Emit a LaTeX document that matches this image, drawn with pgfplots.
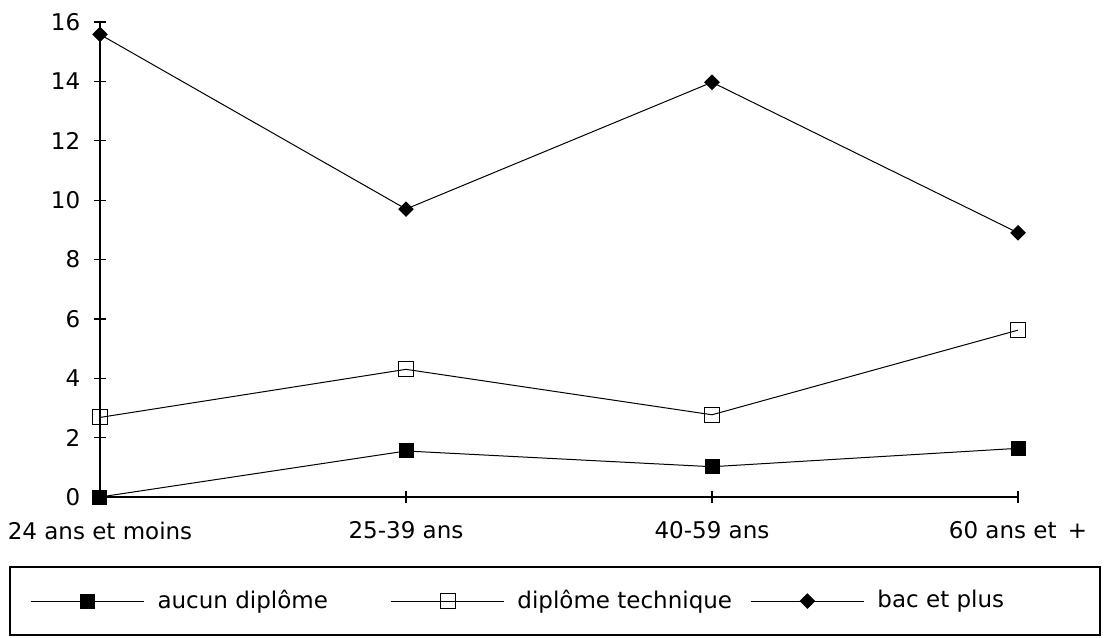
\documentclass[border=0pt]{standalone}
\usepackage{pgfplots}
\pgfplotsset{compat=1.18}
\usepackage{fontspec}
\setmainfont{DejaVu Sans}

\begin{document}
\begin{tikzpicture}
\useasboundingbox (-40pt,-56pt) rectangle (402pt,198.8pt);
\begin{axis}[
    at={(0,0)}, anchor=origin,
    scale only axis,
    width=367.2pt, height=190pt,
    xmin=0, xmax=3, ymin=0, ymax=16,
    clip=false,
    axis lines=left,
    axis line style={-, line width=0.6pt},
    xtick={0,1,2,3},
    xticklabels={24 ans et moins, 25-39 ans, 40-59 ans, 60 ans et \,+},
    ytick={0,2,...,16},
    tick align=center,
    major tick length=4.8pt,
    tick style={black, line width=0.5pt},
    ticklabel style={font=\fontsize{9.2}{11}\selectfont},
    xticklabel style={yshift=-4pt},
    yticklabel style={xshift=-2pt},
    /pgf/number format/assume math mode=true,
    legend columns=3,
    legend style={at={(-0.07625,-0.219)}, anchor=west, draw=none, fill=none,
        inner sep=0pt, font=\fontsize{9.2}{11}\selectfont,
        nodes={inner sep=0pt},
        /tikz/every odd column/.append style={column sep=5.2pt}},
    legend image code/.code={\draw[mark repeat=2,mark phase=2,#1]
        plot coordinates {(0pt,0pt) (22.6pt,0pt) (45.2pt,0pt)};},
]
\addplot[black, line width=0.4pt, mark=square*, mark size=2.8pt]
    coordinates {(0,0) (1,1.55) (2,1.02) (3,1.64)};
\addlegendentry{\makebox[93.2pt][l]{aucun diplôme}}
\addplot[black, line width=0.4pt, mark=square, mark size=3pt, mark options={fill=white}]
    coordinates {(0,2.68) (1,4.30) (2,2.77) (3,5.62)};
\addlegendentry{\makebox[93.2pt][l]{diplôme technique}}
\addplot[black, line width=0.4pt, mark=square*, mark size=2pt, mark options={rotate=45}]
    coordinates {(0,15.58) (1,9.70) (2,13.97) (3,8.9)};
\addlegendentry{bac et plus}
\end{axis}
\draw[line width=0.6pt] (-36pt,-28pt) rectangle (400pt,-55.2pt);
\end{tikzpicture}
\end{document}
